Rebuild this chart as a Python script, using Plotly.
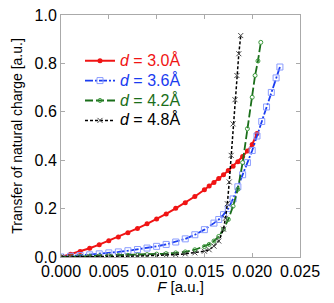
import plotly.graph_objects as go

# d = 3.0 Å
F_30 = [0.000, 0.001, 0.002, 0.003, 0.004, 0.005, 0.006, 0.007, 0.008, 0.009, 0.010,
        0.011, 0.012, 0.013, 0.014, 0.015, 0.0155, 0.016, 0.0165, 0.017, 0.0175,
        0.018, 0.0185, 0.019, 0.0195, 0.020, 0.0205]
Q_30 = [0.000, 0.011, 0.023, 0.036, 0.051, 0.067, 0.083, 0.100, 0.118, 0.137, 0.157,
        0.178, 0.201, 0.224, 0.250, 0.278, 0.293, 0.308, 0.324, 0.340, 0.357,
        0.375, 0.394, 0.415, 0.438, 0.465, 0.510]

# d = 3.6 Å
F_36 = [0.000, 0.001, 0.002, 0.003, 0.004, 0.005, 0.006, 0.007, 0.008, 0.009, 0.010,
        0.011, 0.012, 0.013, 0.014, 0.015, 0.016, 0.0165, 0.017, 0.0175, 0.018,
        0.0185, 0.019, 0.0195, 0.020, 0.0205, 0.021, 0.0215, 0.022, 0.0225, 0.0229]
Q_36 = [0.000, 0.003, 0.006, 0.009, 0.013, 0.017, 0.021, 0.026, 0.031, 0.037, 0.044,
        0.052, 0.062, 0.075, 0.092, 0.113, 0.140, 0.155, 0.175, 0.200, 0.240,
        0.290, 0.340, 0.390, 0.440, 0.500, 0.560, 0.620, 0.680, 0.740, 0.785]

# d = 4.2 Å
F_42 = [0.000, 0.001, 0.002, 0.003, 0.004, 0.005, 0.006, 0.007, 0.008, 0.009, 0.010,
        0.011, 0.012, 0.013, 0.014, 0.015, 0.0155, 0.016, 0.0165, 0.017, 0.0175,
        0.018, 0.0185, 0.019, 0.0195, 0.020, 0.0203, 0.0206, 0.0209]
Q_42 = [0.000, 0.001, 0.002, 0.003, 0.004, 0.005, 0.006, 0.007, 0.008, 0.010, 0.012,
        0.014, 0.017, 0.021, 0.030, 0.043, 0.052, 0.066, 0.085, 0.115, 0.155,
        0.210, 0.280, 0.390, 0.530, 0.660, 0.750, 0.810, 0.887]

# d = 4.8 Å
F_48 = [0.000, 0.001, 0.002, 0.003, 0.004, 0.005, 0.006, 0.007, 0.008, 0.009, 0.010,
        0.011, 0.012, 0.013, 0.014, 0.015, 0.0155, 0.016, 0.0165, 0.017, 0.0172,
        0.0174, 0.0176, 0.0178, 0.018, 0.0182, 0.0184, 0.0186, 0.0188]
Q_48 = [0.000, 0.000, 0.001, 0.001, 0.002, 0.002, 0.003, 0.003, 0.004, 0.005, 0.006,
        0.008, 0.010, 0.013, 0.017, 0.024, 0.030, 0.045, 0.066, 0.115, 0.160,
        0.220, 0.310, 0.420, 0.550, 0.650, 0.750, 0.840, 0.915]

x_ticks = [0.000, 0.005, 0.010, 0.015, 0.020, 0.025]
x_tick_labels = ["0.000", "0.005", "0.010", "0.015", "0.020", "0.025"]
y_ticks = [0.0, 0.2, 0.4, 0.6, 0.8, 1.0]
y_tick_labels = ["0.0", "0.2", "0.4", "0.6", "0.8", "1.0"]

names = ["3.0", "3.6", "4.2", "4.8"]
colors = ["#f01414", "#1a3cf0", "#1a6e1a", "#000000"]


def label(i):
    return ("<span style='color:%s;font-size:16px'><i>d</i> = %sÅ</span>"
            % (colors[i], names[i]))


fig = go.Figure()
fig.add_trace(go.Scatter(
    x=F_30, y=Q_30, mode="lines+markers", name=label(0),
    line=dict(color=colors[0], width=2),
    marker=dict(symbol="circle", size=5, color=colors[0])))
fig.add_trace(go.Scatter(
    x=F_36, y=Q_36, mode="lines+markers", name=label(1),
    line=dict(color=colors[1], width=1.8, dash="8px,2px,2px,2px"),
    marker=dict(symbol="square-open", size=6, color="#8a9cff", line=dict(width=1))))
fig.add_trace(go.Scatter(
    x=F_42, y=Q_42, mode="lines+markers", name=label(2),
    line=dict(color=colors[2], width=1.8, dash="8px,3px"),
    marker=dict(symbol="circle-open", size=4, color="#3c9a3c", line=dict(width=1))))
fig.add_trace(go.Scatter(
    x=F_48, y=Q_48, mode="lines+markers", name=label(3),
    line=dict(color=colors[3], width=1.5, dash="3px,2px"),
    marker=dict(symbol="x-thin-open", size=5, color="#444444", line=dict(width=1))))

axis_common = dict(
    showline=True, linecolor="#aaaaaa", linewidth=1, mirror="ticks",
    ticks="inside", ticklen=4, tickcolor="#aaaaaa", showgrid=False, zeroline=False,
    automargin=False, ticklabeloverflow="allow",
    tickfont=dict(family="Liberation Sans, Arial", size=16, color="black"),
)

# The page body has an 8px margin; the figure is sized so that every text
# stays inside the visible 334x303 window.
fig.update_layout(
    width=326, height=287,
    margin=dict(l=53, r=34, t=7, b=38),
    paper_bgcolor="white", plot_bgcolor="white",
    font=dict(family="Liberation Sans, Arial", color="black"),
    showlegend=True,
    legend=dict(x=0.0795, y=0.873, xanchor="left", yanchor="top",
                bgcolor="rgba(0,0,0,0)", font=dict(size=13),
                tracegroupgap=0, itemwidth=30),
    xaxis=dict(range=[0, 0.025], tickvals=x_ticks, ticktext=x_tick_labels,
               ticklabelstandoff=0,
               title=dict(text="<i>F</i> [a.u.]", font=dict(size=15), standoff=3),
               **axis_common),
    yaxis=dict(range=[0, 1.0], tickvals=y_ticks, ticktext=y_tick_labels,
               ticklabelstandoff=0,
               title=dict(text="Transfer of natural charge [a.u.]", font=dict(size=14), standoff=8),
               **axis_common),
)

fig.write_html("out.html")
